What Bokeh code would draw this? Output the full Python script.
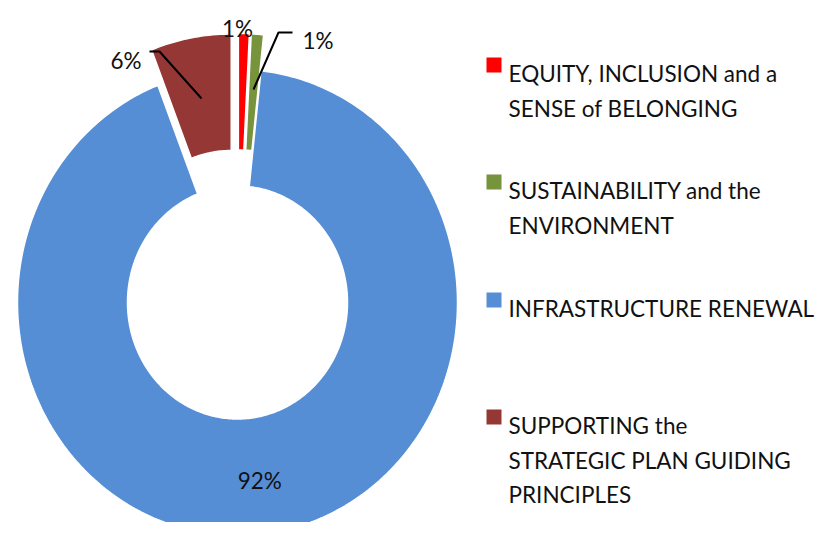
import numpy as np
from bokeh.plotting import figure
from bokeh.models import Range1d
from bokeh.core.properties import value
from bokeh.embed import file_html
from bokeh.resources import INLINE

# ---------------- data ----------------
categories = [
    "EQUITY, INCLUSION and a\nSENSE of BELONGING",
    "SUSTAINABILITY and the\nENVIRONMENT",
    "INFRASTRUCTURE RENEWAL",
    "SUPPORTING the\nSTRATEGIC PLAN GUIDING\nPRINCIPLES",
]
shares = [0.8, 0.9, 92.4, 5.9]          # percent
colors = ["#FF0000", "#77933C", "#558ED5", "#953735"]
pct_labels = [f"{round(v):.0f}%" for v in shares]

# ---------------- layout (picture pixels) ----------------
W, H, M = 818, 522, 0
CX, CY = 237.0, 302.0          # donut centre in picture pixels
SX, SY = 220.0, 233.0          # pixels per unit (x, y)
R_OUT, R_IN = 1.0, 0.5
EXPLODE = [0.155, 0.155, 0.0, 0.155]
FONT = value("Lato")
FS = "22.5px"


def X(px):
    return (px - CX) / SX


def Y(py):
    return (CY - py) / SY


p = figure(width=W, height=H, output_backend="svg", toolbar_location=None,
           x_range=Range1d(X(M), X(M + W)), y_range=Range1d(Y(M + H), Y(M)),
           x_axis_location=None, y_axis_location=None, min_border=0)
p.grid.visible = False
p.outline_line_color = None
p.background_fill_color = "white"
p.border_fill_color = "white"

# ---------------- slices ----------------
total = float(sum(shares))
xs, ys, mids = [], [], []
cum = 0.0
for v, e in zip(shares, EXPLODE):
    t0 = cum / total * 2 * np.pi
    t1 = (cum + v) / total * 2 * np.pi
    cum += v
    mid = 0.5 * (t0 + t1)
    mids.append(mid)
    ox, oy = e * np.sin(mid), e * np.cos(mid)
    n = max(8, int((t1 - t0) / (2 * np.pi) * 400))
    a = np.linspace(t0, t1, n)
    px = np.concatenate([ox + R_OUT * np.sin(a), ox + R_IN * np.sin(a[::-1])])
    py = np.concatenate([oy + R_OUT * np.cos(a), oy + R_IN * np.cos(a[::-1])])
    xs.append(px.tolist())
    ys.append(py.tolist())

p.patches(xs, ys, fill_color=colors, line_color="white", line_width=1.5)

# ---------------- data labels ----------------
p.multi_line(xs=[[X(253), X(278), X(292)], [X(149), X(159), X(201)]],
             ys=[[Y(89), Y(32), Y(32)], [Y(51), Y(51), Y(98)]],
             line_color="black", line_width=2)

p.text(x=[X(237)], y=[Y(28)], text=[pct_labels[0]], text_font=FONT,
       text_font_size=FS, text_align="center", text_baseline="alphabetic",
       text_color="#111111")
p.text(x=[X(302)], y=[Y(40)], text=[pct_labels[1]], text_font=FONT,
       text_font_size=FS, text_align="left", text_baseline="alphabetic",
       text_color="#111111")
p.text(x=[X(141)], y=[Y(60)], text=[pct_labels[3]], text_font=FONT,
       text_font_size=FS, text_align="right", text_baseline="alphabetic",
       text_color="#111111")
rl = 0.77
p.text(x=[rl * np.sin(mids[2])], y=[rl * np.cos(mids[2])], text=[pct_labels[2]],
       text_font=FONT, text_font_size=FS, text_align="center",
       text_baseline="middle", text_color="#111111")

# ---------------- legend ----------------
LEG_SQ_X = 493.5
LEG_TX = 508
LEG_BASE = [73, 190, 308, 425]
LINE_H = 34.7
SQ = 15

p.rect(x=[X(LEG_SQ_X)] * 4, y=[Y(b - 8.5) for b in LEG_BASE],
       width=SQ / SX, height=SQ / SY, fill_color=colors, line_color=None)

tx, ty, tt = [], [], []
for lab, b in zip(categories, LEG_BASE):
    for i, line in enumerate(lab.split("\n")):
        tx.append(X(LEG_TX))
        ty.append(Y(b + i * LINE_H))
        tt.append(line)
p.text(x=tx, y=ty, text=tt, text_font=FONT, text_font_size=FS,
       text_align="left", text_baseline="alphabetic", text_color="#111111")

open("out.html", "w").write(file_html(p, INLINE))
